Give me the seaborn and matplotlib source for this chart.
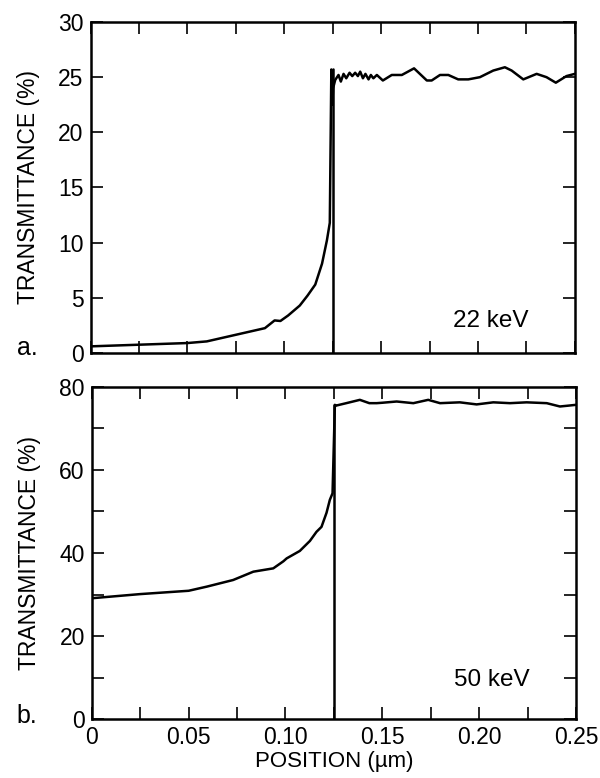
import matplotlib
matplotlib.use("Agg")
import matplotlib.pyplot as plt
import seaborn as sns
import pandas as pd
from matplotlib.ticker import MultipleLocator

# ---- data ----
x22 = [0, 0.025, 0.05, 0.06, 0.07, 0.08, 0.09, 0.095, 0.098, 0.102,
       0.108, 0.112, 0.116, 0.1195, 0.122, 0.1235, 0.1243, 0.1248, 0.1252, 0.1263,
       0.1280, 0.1292, 0.1306, 0.1320, 0.1337, 0.1351, 0.1366, 0.1380, 0.1392, 0.1406,
       0.1419, 0.1435, 0.1447, 0.1460, 0.1478, 0.1509, 0.1555, 0.1607, 0.1670, 0.1736,
       0.1761, 0.1804, 0.1847, 0.1898, 0.1950, 0.2010, 0.2079, 0.2139, 0.2174, 0.2234,
       0.2303, 0.2354, 0.2402, 0.2457, 0.25]
y22 = [0.6, 0.75, 0.9, 1.05, 1.45, 1.85, 2.25, 2.95, 2.9, 3.4,
       4.3, 5.2, 6.2, 8.1, 10.2, 11.8, 25.7, 22.5, 24.0, 24.75,
       25.2, 24.6, 25.3, 24.9, 25.4, 25.1, 25.4, 25.1, 25.5, 24.9,
       25.3, 24.8, 25.2, 24.9, 25.2, 24.7, 25.2, 25.2, 25.8, 24.7,
       24.7, 25.2, 25.2, 24.8, 24.8, 25.0, 25.6, 25.9, 25.6, 24.8,
       25.3, 25.0, 24.5, 25.1, 25.3]

x50 = [0, 0.025, 0.05, 0.0594, 0.073, 0.0834, 0.0937, 0.0989, 0.1006, 0.1074,
       0.1126, 0.116, 0.1186, 0.1212, 0.1229, 0.1243, 0.1255, 0.1260, 0.1314, 0.1384,
       0.1433, 0.1471, 0.1500, 0.1574, 0.166, 0.1737, 0.1798, 0.190, 0.1987, 0.2073,
       0.2159, 0.2245, 0.2349, 0.2417, 0.246, 0.25]
y50 = [29.1, 30.1, 30.9, 31.9, 33.5, 35.5, 36.3, 38.0, 38.7, 40.5,
       42.9, 45.1, 46.3, 49.7, 52.8, 54.4, 75.7, 75.5, 76.1, 76.9,
       76.1, 76.1, 76.2, 76.5, 76.1, 76.9, 76.1, 76.3, 75.8, 76.3,
       76.1, 76.3, 76.1, 75.3, 75.5, 75.7]

interface_x = [0.125, 0.125]
interface_y22 = [0, 25.7]
interface_y50 = [0, 75.7]

xticks = [0, 0.05, 0.10, 0.15, 0.20, 0.25]
xticklabels = ["0", "0.05", "0.10", "0.15", "0.20", "0.25"]
yticks22 = [0, 5, 10, 15, 20, 25, 30]
yticks50 = [0, 20, 40, 60, 80]

assert len(x22) == len(y22) and len(x50) == len(y50)

sns.set_theme(style="ticks")
plt.rcParams["font.family"] = ["Liberation Sans", "DejaVu Sans"]
plt.rcParams["axes.linewidth"] = 1.8

fig = plt.figure(figsize=(6, 7.78), dpi=100)
ax1 = fig.add_axes([0.151, 0.5463, 0.807, 0.4254])
ax2 = fig.add_axes([0.153, 0.0758, 0.807, 0.4268])

LW = 1.8
def draw(ax, xs, ys, iy):
    df = pd.DataFrame({"x": xs, "y": ys})
    sns.lineplot(data=df, x="x", y="y", ax=ax, sort=False, estimator=None,
                 color="black", lw=LW)
    di = pd.DataFrame({"x": interface_x, "y": iy})
    sns.lineplot(data=di, x="x", y="y", ax=ax, sort=False, estimator=None,
                 color="black", lw=LW)

draw(ax1, x22, y22, interface_y22)
draw(ax2, x50, y50, interface_y50)

for ax in (ax1, ax2):
    ax.set_xlim(0, 0.25)
    ax.xaxis.set_minor_locator(MultipleLocator(0.025))
    ax.tick_params(which="both", direction="in", top=True, right=True,
                   length=8.5, width=1.2, color="black", labelsize=16.5, pad=5,
                   labelcolor="black")
    for s in ax.spines.values():
        s.set_color("black")
    ax.set_ylabel("TRANSMITTANCE (%)", fontsize=16.5, color="black", labelpad=13)

ax1.set_ylim(0, 30)
ax1.set_yticks(yticks22)
ax1.set_xticks(xticks)
ax1.set_xticklabels([])
ax1.set_xlabel("")

ax2.set_ylim(0, 80)
ax2.set_yticks(yticks50)
ax2.yaxis.set_minor_locator(MultipleLocator(10))
ax2.set_xticks(xticks)
ax2.set_xticklabels(xticklabels)
ax2.set_xlabel("POSITION (µm)", fontsize=16, color="black", labelpad=1.5)

ax1.text(0.748, 0.079, "22 keV", transform=ax1.transAxes, fontsize=17.5,
         ha="left", va="baseline", color="black")
ax2.text(0.748, 0.10, "50 keV", transform=ax2.transAxes, fontsize=17.5,
         ha="left", va="baseline", color="black")

fig.text(0.028, 0.544, "a.", fontsize=18, ha="left", va="baseline", color="black")
fig.text(0.028, 0.071, "b.", fontsize=18, ha="left", va="baseline", color="black")

fig.savefig("out.png", dpi=100, facecolor="white")
